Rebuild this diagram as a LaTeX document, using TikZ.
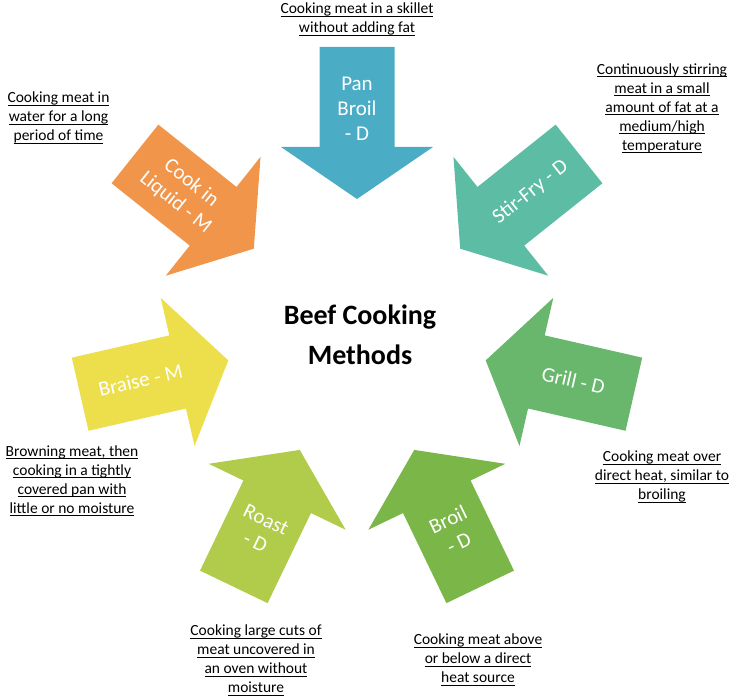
\documentclass[tikz,border=0pt]{standalone}
\usepackage{fontspec}
\setmainfont{Carlito}
\definecolor{cpan}{HTML}{4BACC6}
\definecolor{cstir}{HTML}{5DBCA4}
\definecolor{cgrill}{HTML}{69B76C}
\definecolor{cbroil}{HTML}{7AB648}
\definecolor{croast}{HTML}{B1CB4A}
\definecolor{cbraise}{HTML}{ECDF4B}
\definecolor{ccook}{HTML}{F1954B}
\newcommand\cookarrow[2]{%
  \begin{scope}[shift={(C)}, rotate=#1]
    \fill[#2] (284,37.5) -- (184,37.5) -- (184,76) -- (132,0) -- (184,-76)
      -- (184,-37.5) -- (284,-37.5) -- cycle;
  \end{scope}}
\newsavebox\myulbox
\newcommand\myul[1]{\sbox\myulbox{#1}\rlap{\rule[-2.8pt]{\wd\myulbox}{0.8pt}}\usebox\myulbox}
\begin{document}
\begin{tikzpicture}[x=1pt,y=1pt,
  arrowlbl/.style={text=white, align=center, font=\fontsize{21}{25}\selectfont, inner sep=0pt},
  captxt/.style={text=black, align=center, font=\fontsize{15.5}{19}\selectfont, inner sep=0pt},
  titletxt/.style={align=center, font=\fontsize{28}{40}\selectfont\bfseries, inner sep=0pt}]
\useasboundingbox (0,0) rectangle (734,697);
\coordinate (C) at (357,366);
\cookarrow{90}{cpan}
\cookarrow{38.57}{cstir}
\cookarrow{-12.86}{cgrill}
\cookarrow{-64.29}{cbroil}
\cookarrow{-115.71}{croast}
\cookarrow{-167.14}{cbraise}
\cookarrow{141.43}{ccook}
\node[arrowlbl] (lpan) at ([shift={(90:222)}]C) {Pan\\Broil\\- D};
\node[arrowlbl, rotate=38.57] (lstir) at ([shift={(38.57:222)}]C) {Stir-Fry - D};
\node[arrowlbl, rotate=-12.86] (lgrill) at ([shift={(-12.86:222)}]C) {Grill - D};
\node[arrowlbl, rotate=25.71] (lbroil) at ([shift={(-64.29:222)}]C) {Broil\\- D};
\node[arrowlbl, rotate=-25.71] (lroast) at ([shift={(-115.71:222)}]C) {Roast\\- D};
\node[arrowlbl, rotate=12.86] (lbraise) at ([shift={(-167.14:222)}]C) {Braise - M};
\node[arrowlbl, rotate=-38.57] (lcook) at ([shift={(141.43:222)}]C) {Cook in\\Liquid - M};
\node[titletxt] (title) at (360,362) {Beef Cooking\\Methods};
\node[captxt] (tpan) at (357,677.5) {\myul{Cooking meat in a skillet}\\\myul{without adding fat}};
\node[captxt] (tstir) at (662,588.5) {\myul{Continuously stirring}\\\myul{meat in a small}\\\myul{amount of fat at a}\\\myul{medium/high}\\\myul{temperature}};
\node[captxt] (tgrill) at (662,220) {\myul{Cooking meat over}\\\myul{direct heat, similar to}\\\myul{broiling}};
\node[captxt] (tbroil) at (478,37) {\myul{Cooking meat above}\\\myul{or below a direct}\\\myul{heat source}};
\node[captxt] (troast) at (256,36.5) {\myul{Cooking large cuts of}\\\myul{meat uncovered in}\\\myul{an oven without}\\\myul{moisture}};
\node[captxt] (tbraise) at (72,216) {\myul{Browning meat, then}\\\myul{cooking in a tightly}\\\myul{covered pan with}\\\myul{little or no moisture}};
\node[captxt] (tcook) at (58.5,579) {\myul{Cooking meat in}\\\myul{water for a long}\\\myul{period of time}};
\end{tikzpicture}
\end{document}
